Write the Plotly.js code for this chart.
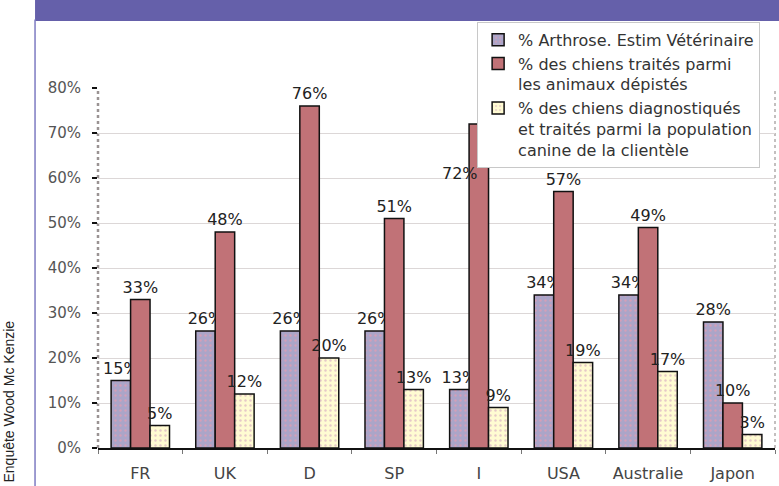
<!DOCTYPE html>
<html>
<head>
<meta charset="utf-8">
<script src="https://cdn.plot.ly/plotly-3.0.1.min.js"></script>
<style>
  html, body { margin: 0; padding: 0; background: #ffffff; }
  #chart { width: 779px; height: 486px; }
</style>
</head>
<body>
<div id="chart"></div>
<script>
// ---- Data ----
const categories = ["FR", "UK", "D", "SP", "I", "USA", "Australie", "Japon"];
const seriesNames = [
  "% Arthrose. Estim Vétérinaire",
  "% des chiens traités parmi<br>les animaux dépistés",
  "% des chiens diagnostiqués<br>et traités parmi la population<br>canine de la clientèle"
];
const arthrose = [15, 26, 26, 26, 13, 34, 34, 28];
const traites = [33, 48, 76, 51, 72, 57, 49, 10];
const diagnostiques = [5, 12, 20, 13, 9, 19, 17, 3];
const yTickVals = [0, 10, 20, 30, 40, 50, 60, 70, 80];
const yTickText = ["0%", "10%", "20%", "30%", "40%", "50%", "60%", "70%", "80%"];
const sourceText = "Enquête Wood Mc Kenzie";

// ---- Styles ----
const labelFont = { family: "DejaVu Sans", size: 16, color: "#222222" };
const lineBlack = { color: "#111111", width: 1.5 };

function labels(vals, skip) {
  return vals.map((v, i) => (skip && skip.indexOf(i) >= 0) ? "" : v + "%");
}

const traces = [
  {
    type: "bar", name: seriesNames[0], x: categories, y: arthrose,
    text: labels(arthrose), textposition: "outside", cliponaxis: false,
    constraintext: "none", textfont: labelFont,
    marker: {
      color: "#aba5c8", line: lineBlack,
      pattern: { shape: ".", bgcolor: "#aba5c8", fgcolor: "#d49fb8", size: 5, solidity: 0.18 }
    },
    hoverinfo: "skip"
  },
  {
    type: "bar", name: seriesNames[1], x: categories, y: traites,
    text: labels(traites, [4]), textposition: "outside", cliponaxis: false,
    constraintext: "none", textfont: labelFont,
    marker: { color: "#c17277", line: lineBlack },
    hoverinfo: "skip"
  },
  {
    type: "bar", name: seriesNames[2], x: categories, y: diagnostiques,
    text: labels(diagnostiques), textposition: "outside", cliponaxis: false,
    constraintext: "none", textfont: labelFont,
    marker: {
      color: "#fffbd2", line: lineBlack,
      pattern: { shape: ".", bgcolor: "#fffbd2", fgcolor: "#e6c8c8", size: 5, solidity: 0.18 }
    },
    hoverinfo: "skip"
  }
];

const layout = {
  width: 779, height: 486,
  margin: { l: 98, r: 4, t: 88, b: 38, pad: 0 },
  paper_bgcolor: "#ffffff", plot_bgcolor: "#ffffff",
  barmode: "group", bargap: 0.31, bargroupgap: 0,
  showlegend: true,
  legend: {
    x: 0.56, y: 1.184, xanchor: "left", yanchor: "top",
    bgcolor: "#ffffff", bordercolor: "#c8c8c8", borderwidth: 1,
    font: { family: "DejaVu Sans", size: 16, color: "#333333" },
    valign: "top", tracegroupgap: 4, itemclick: false, itemdoubleclick: false
  },
  xaxis: {
    type: "category", showgrid: false, zeroline: false,
    showline: true, linecolor: "#111111", linewidth: 1.5,
    ticks: "outside", tickson: "boundaries", ticklen: 4, tickcolor: "#777777", tickwidth: 1,
    ticklabelstandoff: 10,
    tickfont: { family: "DejaVu Sans", size: 16, color: "#444444" },
    fixedrange: true
  },
  yaxis: {
    range: [0, 80], tickmode: "array", tickvals: yTickVals, ticktext: yTickText,
    showgrid: true, gridcolor: "#dcd7d7", gridwidth: 1, zeroline: false,
    showline: false,
    ticks: "outside", ticklen: 5, tickcolor: "#111111", tickwidth: 1.5,
    ticklabelstandoff: 8,
    tickfont: { family: "DejaVu Sans", size: 15, color: "#555555" },
    fixedrange: true
  },
  shapes: [
    // header band
    { type: "rect", xref: "paper", yref: "paper", x0: -0.093, x1: 1.01, y0: 1.186, y1: 1.3,
      fillcolor: "#6560aa", line: { width: 0 }, layer: "above" },
    // left purple frame line
    { type: "line", xref: "paper", yref: "paper", x0: -0.093, x1: -0.093, y0: -0.12, y1: 1.19,
      line: { color: "#7d7bc2", width: 1.5 } },
    // y axis dotted line
    { type: "line", xref: "paper", yref: "paper", x0: 0, x1: 0, y0: 0, y1: 1,
      line: { color: "#9a9393", width: 2.5, dash: "dot" }, layer: "below" },
    // right dotted frame
    { type: "line", xref: "paper", yref: "paper", x0: 1, x1: 1, y0: 0, y1: 1,
      line: { color: "#b0aaaa", width: 1.5, dash: "dot" }, layer: "below" }
  ],
  annotations: [
    { xref: "paper", yref: "paper", x: -0.131, y: 0.13, text: sourceText, textangle: -90,
      showarrow: false, xanchor: "center", yanchor: "middle",
      font: { family: "Liberation Sans", size: 14, color: "#222222" } },
    { xref: "x", yref: "y", x: categories[4], y: traites[4] - 11, xshift: -19,
      text: traites[4] + "%", showarrow: false, xanchor: "center", yanchor: "middle",
      font: labelFont }
  ]
};

Plotly.newPlot("chart", traces, layout, { staticPlot: true, displayModeBar: false });
</script>
</body>
</html>
